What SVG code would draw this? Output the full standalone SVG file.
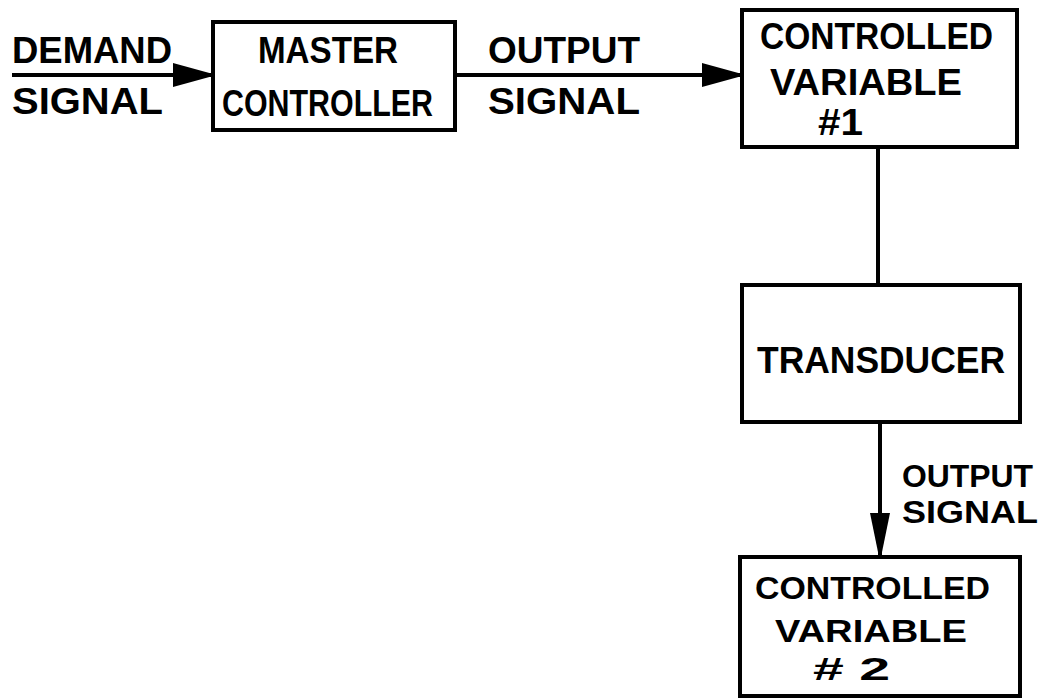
<svg xmlns="http://www.w3.org/2000/svg" width="1049" height="700" viewBox="0 0 1049 700">
<style>
.box{fill:#fff;stroke:#000;stroke-width:4}
.ln{fill:none;stroke:#000;stroke-width:4}
.t{font-family:"Liberation Sans",Arial,sans-serif;font-size:37px;font-weight:bold;fill:#000}
.s{font-size:32px}
</style>
<defs>
<marker id="ah" viewBox="0 0 40 24" refX="40" refY="12" markerWidth="40" markerHeight="24" markerUnits="userSpaceOnUse" orient="auto">
<path d="M0,0 L40,11 L40,13 L0,24 Z" fill="#000"/>
</marker>
<marker id="ahv" viewBox="0 0 44 20" refX="44" refY="10" markerWidth="44" markerHeight="20" markerUnits="userSpaceOnUse" orient="auto">
<path d="M0,0 L44,9 L44,11 L0,20 Z" fill="#000"/>
</marker>
</defs>
<rect width="1049" height="700" fill="#fff"/>
<g id="connectors">
<line class="ln" x1="12" y1="75" x2="213" y2="75" marker-end="url(#ah)"/>
<line class="ln" x1="455" y1="75" x2="742" y2="75" marker-end="url(#ah)"/>
<line class="ln" x1="878" y1="147" x2="878" y2="285"/>
<line class="ln" x1="880" y1="422" x2="880" y2="557" marker-end="url(#ahv)"/>
<text class="t" x="12" y="63" textLength="160" lengthAdjust="spacingAndGlyphs">DEMAND</text>
<text class="t" x="12" y="114" textLength="151" lengthAdjust="spacingAndGlyphs">SIGNAL</text>
<text class="t" x="488" y="63" textLength="152" lengthAdjust="spacingAndGlyphs">OUTPUT</text>
<text class="t" x="488" y="114" textLength="152" lengthAdjust="spacingAndGlyphs">SIGNAL</text>
<text class="t s" x="902" y="487" textLength="131" lengthAdjust="spacingAndGlyphs">OUTPUT</text>
<text class="t s" x="902" y="523" textLength="136" lengthAdjust="spacingAndGlyphs">SIGNAL</text>
</g>
<g id="master-controller">
<rect class="box" x="213" y="22" width="242" height="108"/>
<text class="t" x="258" y="63" textLength="140" lengthAdjust="spacingAndGlyphs">MASTER</text>
<text class="t" x="222" y="116" textLength="211" lengthAdjust="spacingAndGlyphs">CONTROLLER</text>
</g>
<g id="controlled-variable-1">
<rect class="box" x="742" y="10" width="275" height="137"/>
<text class="t" x="760" y="49" textLength="233" lengthAdjust="spacingAndGlyphs">CONTROLLED</text>
<text class="t" x="770" y="95" textLength="192" lengthAdjust="spacingAndGlyphs">VARIABLE</text>
<text class="t" x="818" y="135" textLength="45" lengthAdjust="spacingAndGlyphs">#1</text>
</g>
<g id="transducer">
<rect class="box" x="742" y="285" width="278" height="137"/>
<text class="t" x="757" y="373" textLength="248" lengthAdjust="spacingAndGlyphs">TRANSDUCER</text>
</g>
<g id="controlled-variable-2">
<rect class="box" x="740" y="557" width="280" height="139"/>
<text class="t s" x="755" y="599" textLength="235" lengthAdjust="spacingAndGlyphs">CONTROLLED</text>
<text class="t s" x="775" y="642" textLength="192" lengthAdjust="spacingAndGlyphs">VARIABLE</text>
<text class="t s" x="813" y="680" textLength="77" lengthAdjust="spacingAndGlyphs"># 2</text>
</g>
</svg>
